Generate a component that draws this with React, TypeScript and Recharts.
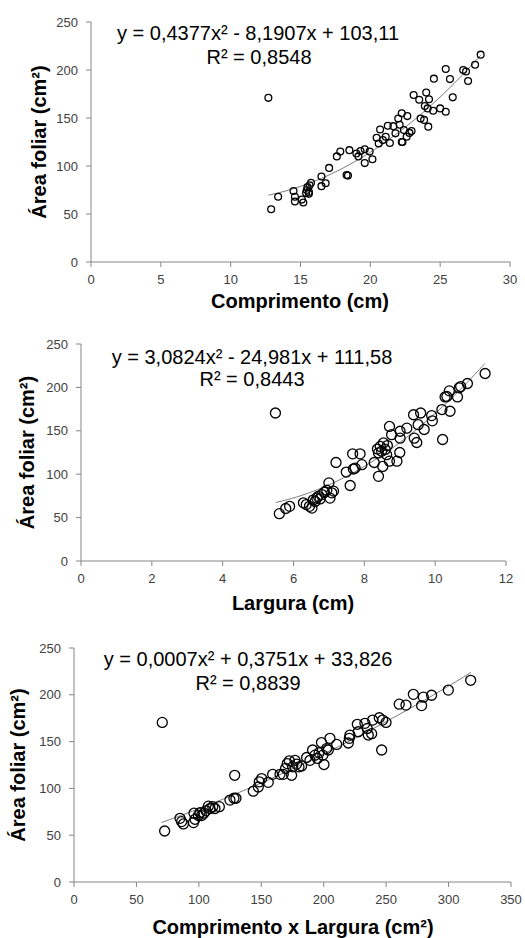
import React from "react";
import { ScatterChart, Scatter, XAxis, YAxis, Customized } from "recharts";

// ---- Chart 1: Comprimento (cm) vs Área foliar ----
const comprimento = [12.7,12.9,13.4,14.5,14.6,14.6,15.1,15.2,15.4,15.45,15.5,15.6,15.65,15.75,15.6,16.5,16.5,16.8,17.05,17.6,17.85,18.3,18.4,18.5,19.0,19.15,19.3,19.6,19.6,19.95,20.15,20.45,20.7,20.6,20.9,21.1,21.25,21.4,21.65,21.8,22.0,22.1,22.25,22.25,22.4,22.3,22.6,22.65,22.8,22.95,23.1,23.5,23.6,23.85,23.9,24.0,24.1,24.15,24.2,24.5,24.55,25.0,25.4,25.4,25.7,25.9,26.65,26.85,27.0,27.5,27.9];
const area1 = [171,55,68,74,63,68,65,62,72,75,78,71,80,82.5,73,89,79,82,98,110,115,90.5,90,116.5,113,110,115.5,117.5,103,115,107,129.5,138,123.5,127,130.5,142,124,141.5,134,149.5,143,155,125,137.5,125,130.5,152,134.5,136.5,174,169,149.5,148,162.5,176.5,160,141,169.5,157.5,191,160,201,156.5,190.5,171.5,200,198.5,188.5,205.5,216];

// ---- Chart 2: Largura (cm) vs Área foliar ----
const largura = [5.49,5.6,5.78,5.89,6.28,6.36,6.45,6.52,6.56,6.61,6.66,6.7,6.75,6.8,6.87,6.94,7.0,7.03,7.08,7.13,7.2,7.49,7.6,7.67,7.69,7.74,7.88,7.93,8.28,8.37,8.4,8.4,8.45,8.49,8.52,8.54,8.59,8.63,8.65,8.71,8.71,8.77,8.92,9.0,9.01,9.01,9.2,9.39,9.41,9.48,9.52,9.59,9.69,9.9,9.92,10.19,10.21,10.28,10.33,10.4,10.42,10.63,10.68,10.72,10.91,11.41];
const area2 = [170.5,54.5,60.5,63,67,65,63,61,70.5,68.5,72.5,74.5,71.5,76.5,79,81.5,90,72.5,78.5,80.5,113.5,102.5,87,123.5,106,107,123.5,111,113.5,129,97.5,124.5,132,126.5,109,136,128.5,122.5,133,155,115,145.5,115,125,141.5,149.5,153,168.5,141.5,136.5,157,170.5,151.5,167.5,161.5,174.5,140,189,189.5,196,172.5,189,199.5,201,204.5,216];

// ---- Chart 3: Comprimento x Largura (cm²) vs Área foliar ----
const produto = [70.7,72.6,84.9,86.2,87.6,95.7,96.1,96.9,99.6,100.9,102.2,104.1,105.7,107.6,108.9,111.1,112.9,116.4,124.9,128.1,128.7,129.7,143.6,147.6,148.4,150.3,155.6,159.1,165,167.6,169.5,170.8,172.5,174.3,175.1,177,178.3,180.2,182.3,186.3,189,191.1,193,195,196.3,198.2,199.3,200.2,202.3,203.7,205,210.4,219.7,220.5,221,226.9,227.7,233,234.9,235.7,238.4,239.2,244.5,246.4,247.2,249.9,260.5,265.9,271.8,278.4,279.8,286.4,299.8,317.7];
const area3 = [170.5,54.5,68,64.5,62,63.5,73.5,67,71,74,71,73.5,76,81,78.5,80.5,78.5,80.5,87.5,89.5,114,89.5,97,101.5,107,110.5,106.5,115,115,115,121.5,126.5,129.5,114,123,130,126,123,124,133,130,141,135.5,132,138,149,135.5,125.5,142.5,141,153.5,147,148.5,153.5,157,168.5,160.5,169.5,164,157,158.5,173,175.5,141,173,170.5,190,189,200.5,188.5,197.5,199.5,205,215.5];

// Trendline coefficients (a, b, c) as printed on the chart and their x range
const coef1 = [0.4377, -8.1907, 103.11];
const coef2 = [3.0824, -24.981, 111.58];
const coef3 = [0.0007, 0.3751, 33.826];
const range1 = [12.7, 27.9];
const range2 = [5.5, 11.4];
const range3 = [70, 318];

const eq1 = ["y = 0,4377x² - 8,1907x + 103,11", "R² = 0,8548"];
const eq2 = ["y = 3,0824x² - 24,981x + 111,58", "R² = 0,8443"];
const eq3 = ["y = 0,0007x² + 0,3751x + 33,826", "R² = 0,8839"];

const yTicks = [0, 50, 100, 150, 200, 250];
const xTicks1 = [0, 5, 10, 15, 20, 25, 30];
const xTicks2 = [0, 2, 4, 6, 8, 10, 12];
const xTicks3 = [0, 50, 100, 150, 200, 250, 300, 350];

const yTitle = "Área foliar (cm²)";
const xTitle1 = "Comprimento (cm)";
const xTitle2 = "Largura (cm)";
const xTitle3 = "Comprimento x Largura (cm²)";

const zip = (xs: number[], ys: number[]) => xs.map((x, i) => ({ x, y: ys[i] }));
const trend = (c: number[], r: number[]) => {
  const n = 40;
  const out: { x: number; y: number }[] = [];
  for (let i = 0; i <= n; i++) {
    const x = r[0] + ((r[1] - r[0]) * i) / n;
    out.push({ x, y: c[0] * x * x + c[1] * x + c[2] });
  }
  return out;
};

const FONT = "'Liberation Sans', Arial, sans-serif";
const AXIS = "#868686";

type Cfg = {
  top: number;
  height: number;
  margin: { top: number; right: number };
  yWidth: number;
  xHeight: number;
  xMax: number;
  xTicks: number[];
  pts: { x: number; y: number }[];
  line: { x: number; y: number }[];
  r: number;
  eq: string[];
  eqPos: [number, number, number, number];
  xTitle: string;
  xTitlePos: [number, number];
  yTitlePos: [number, number];
};

function Panel(c: Cfg) {
  const Texts = () => (
    <g fontFamily={FONT}>
      <text x={c.eqPos[0]} y={c.eqPos[1]} textAnchor="middle" dominantBaseline="central" fontSize={20} fill="#000">{c.eq[0]}</text>
      <text x={c.eqPos[2]} y={c.eqPos[3]} textAnchor="middle" dominantBaseline="central" fontSize={20} fill="#000">{c.eq[1]}</text>
      <text x={c.xTitlePos[0]} y={c.xTitlePos[1]} textAnchor="middle" dominantBaseline="central" fontSize={20} fontWeight="bold" fill="#000">{c.xTitle}</text>
      <text x={c.yTitlePos[0]} y={c.yTitlePos[1]} textAnchor="middle" dominantBaseline="central" fontSize={20} fontWeight="bold" fill="#000" transform={`rotate(-90 ${c.yTitlePos[0]} ${c.yTitlePos[1]})`}>{yTitle}</text>
    </g>
  );
  return (
    <div style={{ position: "absolute", left: 0, top: c.top }}>
      <ScatterChart width={525} height={c.height} margin={{ top: c.margin.top, right: c.margin.right, bottom: 0, left: 0 }}>
        <XAxis
          type="number"
          dataKey="x"
          domain={[0, c.xMax]}
          ticks={c.xTicks}
          interval={0}
          height={c.xHeight}
          tick={{ fill: "#404040", fontSize: 13, fontFamily: FONT }}
          axisLine={{ stroke: AXIS }}
          tickLine={{ stroke: AXIS }}
          tickSize={5}
          tickMargin={8}
        />
        <YAxis
          type="number"
          dataKey="y"
          domain={[0, 250]}
          ticks={yTicks}
          interval={0}
          width={c.yWidth}
          tick={{ fill: "#404040", fontSize: 13, fontFamily: FONT }}
          axisLine={{ stroke: AXIS }}
          tickLine={{ stroke: AXIS }}
          tickSize={5}
          tickMargin={8}
        />
        <Scatter
          data={c.line}
          line={{ stroke: "#595959", strokeWidth: 0.8 }}
          lineType="joint"
          shape={() => <g />}
          isAnimationActive={false}
        />
        <Scatter
          data={c.pts}
          shape={(p: any) => <circle cx={p.cx} cy={p.cy} r={c.r} fill="none" stroke="#000" strokeWidth={1.3} />}
          isAnimationActive={false}
        />
        <Customized component={Texts} />
      </ScatterChart>
    </div>
  );
}

export default function App() {
  return (
    <div style={{ position: "absolute", left: 0, top: 0, width: 525, height: 938, background: "#fff" }}>
      <Panel
        top={0}
        height={318}
        margin={{ top: 22, right: 15 }}
        yWidth={91}
        xHeight={56}
        xMax={30}
        xTicks={xTicks1}
        pts={zip(comprimento, area1)}
        line={trend(coef1, range1)}
        r={3.4}
        eq={eq1}
        eqPos={[258, 33, 259, 57]}
        xTitle={xTitle1}
        xTitlePos={[300, 301]}
        yTitlePos={[39, 142]}
      />
      <Panel
        top={318}
        height={302}
        margin={{ top: 26, right: 19 }}
        yWidth={81}
        xHeight={59}
        xMax={12}
        xTicks={xTicks2}
        pts={zip(largura, area2)}
        line={trend(coef2, range2)}
        r={5}
        eq={eq2}
        eqPos={[252, 39, 252, 61]}
        xTitle={xTitle2}
        xTitlePos={[293, 285]}
        yTitlePos={[27, 134.5]}
      />
      <Panel
        top={620}
        height={318}
        margin={{ top: 28, right: 14 }}
        yWidth={74}
        xHeight={56}
        xMax={350}
        xTicks={xTicks3}
        pts={zip(produto, area3)}
        line={trend(coef3, range3)}
        r={5}
        eq={eq3}
        eqPos={[248, 39, 248, 63]}
        xTitle={xTitle3}
        xTitlePos={[293, 307]}
        yTitlePos={[18, 145]}
      />
    </div>
  );
}
